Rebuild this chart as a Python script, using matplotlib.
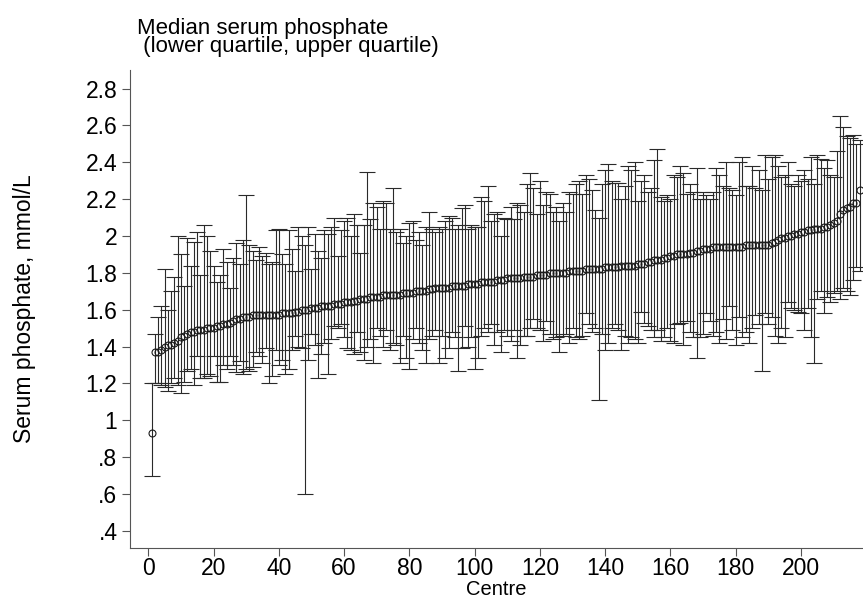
import numpy as np
import matplotlib
matplotlib.use("Agg")
import matplotlib.pyplot as plt

plt.rcParams['font.family'] = ['Liberation Sans', 'DejaVu Sans']

# median serum phosphate per centre (sorted), mmol/L
median = [
    0.93, 1.37, 1.37, 1.38, 1.40, 1.41, 1.41, 1.42, 1.43, 1.45,
    1.46, 1.47, 1.48, 1.48, 1.49, 1.49, 1.49, 1.50, 1.50, 1.50,
    1.51, 1.51, 1.52, 1.52, 1.53, 1.54, 1.55, 1.55, 1.56, 1.56,
    1.56, 1.57, 1.57, 1.57, 1.57, 1.57, 1.57, 1.57, 1.57, 1.57,
    1.58, 1.58, 1.58, 1.58, 1.59, 1.59, 1.60, 1.60, 1.60, 1.61,
    1.61, 1.61, 1.62, 1.62, 1.62, 1.62, 1.63, 1.63, 1.63, 1.64,
    1.64, 1.64, 1.65, 1.65, 1.66, 1.66, 1.66, 1.67, 1.67, 1.67,
    1.67, 1.68, 1.68, 1.68, 1.68, 1.68, 1.68, 1.69, 1.69, 1.69,
    1.69, 1.70, 1.70, 1.70, 1.70, 1.71, 1.71, 1.72, 1.72, 1.72,
    1.72, 1.72, 1.73, 1.73, 1.73, 1.73, 1.73, 1.74, 1.74, 1.74,
    1.74, 1.75, 1.75, 1.75, 1.75, 1.75, 1.76, 1.76, 1.76, 1.77,
    1.77, 1.77, 1.77, 1.77, 1.78, 1.78, 1.78, 1.78, 1.79, 1.79,
    1.79, 1.79, 1.80, 1.80, 1.80, 1.80, 1.80, 1.80, 1.81, 1.81,
    1.81, 1.81, 1.81, 1.82, 1.82, 1.82, 1.82, 1.82, 1.82, 1.83,
    1.83, 1.83, 1.83, 1.83, 1.84, 1.84, 1.84, 1.84, 1.84, 1.85,
    1.85, 1.85, 1.86, 1.86, 1.87, 1.87, 1.87, 1.88, 1.88, 1.89,
    1.89, 1.90, 1.90, 1.90, 1.90, 1.91, 1.91, 1.92, 1.92, 1.93,
    1.93, 1.93, 1.94, 1.94, 1.94, 1.94, 1.94, 1.94, 1.94, 1.94,
    1.94, 1.94, 1.95, 1.95, 1.95, 1.95, 1.95, 1.95, 1.95, 1.95,
    1.96, 1.97, 1.98, 1.99, 1.99, 2.00, 2.00, 2.01, 2.01, 2.02,
    2.02, 2.03, 2.03, 2.04, 2.04, 2.04, 2.05, 2.05, 2.06, 2.07,
    2.08, 2.12, 2.14, 2.15, 2.16, 2.18, 2.18, 2.25,
]

lower_q = [
    0.70, 1.20, 1.20, 1.19, 1.18, 1.16, 1.20, 1.23, 1.19, 1.15,
    1.21, 1.27, 1.28, 1.19, 1.35, 1.23, 1.23, 1.25, 1.24, 1.35,
    1.21, 1.21, 1.30, 1.28, 1.35, 1.30, 1.26, 1.32, 1.25, 1.28,
    1.27, 1.29, 1.37, 1.35, 1.31, 1.39, 1.20, 1.24, 1.38, 1.30,
    1.33, 1.25, 1.28, 1.38, 1.46, 1.40, 1.39, 0.60, 1.33, 1.47,
    1.41, 1.23, 1.36, 1.42, 1.25, 1.44, 1.51, 1.50, 1.52, 1.45,
    1.39, 1.38, 1.36, 1.48, 1.37, 1.33, 1.40, 1.44, 1.31, 1.50,
    1.46, 1.40, 1.49, 1.38, 1.42, 1.41, 1.31, 1.46, 1.34, 1.28,
    1.44, 1.50, 1.42, 1.38, 1.31, 1.44, 1.46, 1.49, 1.31, 1.46,
    1.34, 1.39, 1.48, 1.45, 1.27, 1.39, 1.51, 1.40, 1.45, 1.28,
    1.34, 1.46, 1.50, 1.48, 1.52, 1.41, 1.48, 1.37, 1.49, 1.46,
    1.43, 1.49, 1.34, 1.41, 1.46, 1.46, 1.50, 1.55, 1.50, 1.49,
    1.43, 1.54, 1.47, 1.44, 1.45, 1.37, 1.46, 1.47, 1.42, 1.50,
    1.45, 1.44, 1.46, 1.58, 1.52, 1.48, 1.50, 1.11, 1.47, 1.38,
    1.42, 1.50, 1.52, 1.49, 1.38, 1.46, 1.42, 1.45, 1.44, 1.42,
    1.59, 1.53, 1.51, 1.49, 1.45, 1.49, 1.43, 1.45, 1.50, 1.43,
    1.42, 1.52, 1.53, 1.41, 1.54, 1.48, 1.45, 1.34, 1.45, 1.47,
    1.58, 1.54, 1.46, 1.48, 1.42, 1.55, 1.44, 1.62, 1.49, 1.41,
    1.56, 1.45, 1.48, 1.42, 1.50, 1.57, 1.52, 1.27, 1.58, 1.52,
    1.56, 1.46, 1.42, 1.50, 1.45, 1.64, 1.61, 1.60, 1.59, 1.58,
    1.49, 1.61, 1.45, 1.31, 1.66, 1.70, 1.58, 1.67, 1.64, 1.69,
    1.70, 1.66, 1.72, 1.70, 1.68, 1.76, 1.83, 1.81,
]

upper_q = [
    1.20, 1.47, 1.56, 1.62, 1.82, 1.60, 1.70, 1.78, 2.00, 1.90,
    1.73, 1.99, 1.84, 1.97, 2.02, 1.79, 2.06, 2.00, 1.92, 1.84,
    1.75, 1.79, 1.93, 1.86, 1.72, 1.88, 1.96, 1.85, 1.98, 2.22,
    1.95, 1.92, 1.87, 1.94, 1.89, 1.91, 1.85, 1.86, 2.03, 2.04,
    1.90, 1.85, 2.03, 1.93, 1.81, 2.05, 2.00, 1.95, 2.05, 1.82,
    2.01, 1.92, 1.88, 2.03, 2.01, 2.05, 2.10, 1.89, 2.03, 2.08,
    2.10, 2.00, 2.12, 2.06, 1.91, 2.06, 2.35, 2.09, 2.18, 2.16,
    2.04, 2.19, 2.18, 2.04, 2.26, 2.02, 2.04, 1.96, 2.00, 2.07,
    2.08, 1.98, 2.02, 1.95, 2.05, 2.13, 2.04, 2.02, 2.05, 2.04,
    2.08, 2.11, 2.10, 2.04, 2.06, 2.15, 2.17, 2.04, 2.06, 2.05,
    2.05, 2.21, 2.19, 2.27, 2.08, 2.12, 2.13, 2.00, 2.10, 2.09,
    2.16, 2.09, 2.18, 2.17, 2.13, 2.28, 2.34, 2.26, 2.12, 2.30,
    2.17, 2.24, 2.23, 2.13, 2.16, 2.08, 2.18, 2.13, 2.24, 2.23,
    2.28, 2.30, 2.23, 2.33, 2.31, 2.25, 2.14, 2.10, 2.28, 2.36,
    2.39, 2.30, 2.29, 2.29, 2.20, 2.27, 2.38, 2.36, 2.40, 2.19,
    2.30, 2.33, 2.24, 2.26, 2.41, 2.47, 2.21, 2.19, 2.22, 2.20,
    2.33, 2.32, 2.38, 2.34, 2.23, 2.28, 2.24, 2.37, 2.20, 2.24,
    2.22, 2.20, 2.24, 2.37, 2.33, 2.27, 2.40, 2.26, 2.25, 2.22,
    2.40, 2.43, 2.27, 2.27, 2.38, 2.26, 2.36, 2.25, 2.44, 2.31,
    2.43, 2.44, 2.38, 2.32, 2.33, 2.40, 2.28, 2.27, 2.33, 2.30,
    2.36, 2.31, 2.43, 2.28, 2.44, 2.42, 2.37, 2.41, 2.33, 2.32,
    2.46, 2.65, 2.59, 2.54, 2.53, 2.55, 2.50, 2.52,
]

y_ticks = [0.4, 0.6, 0.8, 1.0, 1.2, 1.4, 1.6, 1.8, 2.0, 2.2, 2.4, 2.6, 2.8]
y_ticklabels = ['.4', '.6', '.8', '1', '1.2', '1.4', '1.6', '1.8', '2', '2.2', '2.4', '2.6', '2.8']

med = np.array(median)
lo = np.array(lower_q)
hi = np.array(upper_q)
centre = np.arange(1, len(med) + 1)

fig = plt.figure(figsize=(8.63, 6.03), dpi=100)
ax = fig.add_axes([0.1506, 0.0917, 0.8494, 0.792])

ax.errorbar(centre, med, yerr=[med - lo, hi - med], fmt='none',
            ecolor='#2a2a2a', elinewidth=0.8, capsize=6, capthick=0.8)
ax.plot(centre, med, 'o', ms=5, mfc='none', mec='#1a1a1a', mew=0.8)

ax.set_xlim(-5.6, 219)
ax.set_ylim(0.309, 2.9)
ax.set_xticks(range(0, 201, 20))
ax.set_yticks(y_ticks)
ax.set_yticklabels(y_ticklabels)
ax.tick_params(labelsize=16.5, length=6, color='#555555', pad=3)
ax.tick_params(axis='x', pad=1)
for s in ['top', 'right']:
    ax.spines[s].set_visible(False)
for s in ['left', 'bottom']:
    ax.spines[s].set_color('#555555')

ax.set_xlabel('Centre', fontsize=14.5, labelpad=0)
ax.set_ylabel('Serum phosphate, mmol/L', fontsize=16.5, labelpad=36)
fig.text(0.159, 0.905, 'Median serum phosphate\n (lower quartile, upper quartile)',
         fontsize=16, ha='left', va='bottom', linespacing=0.85)

fig.savefig('out.png', dpi=100)
